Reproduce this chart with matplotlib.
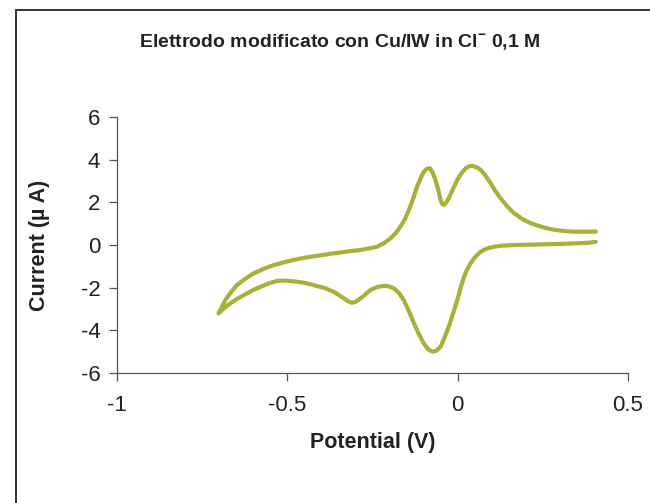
import matplotlib
matplotlib.use("Agg")
import matplotlib.pyplot as plt
from matplotlib.patches import Rectangle

# cyclic voltammogram
# cathodic sweep (0.4 V -> -0.7 V)
pot_down = [0.406, 0.38, 0.30, 0.22, 0.166, 0.13, 0.107, 0.085, 0.068, 0.052,
            0.038, 0.028, 0.019, 0.009, -0.001, -0.013, -0.026, -0.04, -0.05,
            -0.062, -0.074, -0.086, -0.099, -0.113, -0.128, -0.143, -0.158,
            -0.172, -0.187, -0.204, -0.221, -0.238, -0.256, -0.27, -0.285,
            -0.298, -0.31, -0.322, -0.334, -0.35, -0.364, -0.39, -0.423, -0.45,
            -0.481, -0.505, -0.530, -0.555, -0.579, -0.605, -0.628, -0.648,
            -0.668, -0.686, -0.702]
cur_down = [0.15, 0.1, 0.05, 0.02, 0.0, -0.03, -0.08, -0.17, -0.31, -0.55,
            -0.86, -1.15, -1.49, -2.0, -2.58, -3.2, -3.83, -4.4, -4.77,
            -4.95, -5.0, -4.9, -4.62, -4.2, -3.68, -3.1, -2.58,
            -2.25, -2.03, -1.93, -1.92, -1.98, -2.11, -2.3, -2.5,
            -2.65, -2.71, -2.63, -2.5, -2.33, -2.19, -2.02, -1.88, -1.77,
            -1.7, -1.67, -1.68, -1.8, -1.96, -2.15, -2.35, -2.53,
            -2.74, -2.96, -3.21]
# anodic sweep (-0.7 V -> 0.4 V)
pot_up = [-0.702, -0.692, -0.682, -0.665, -0.648, -0.625, -0.599, -0.57, -0.540,
          -0.50, -0.462, -0.41, -0.364, -0.32, -0.285, -0.26, -0.236, -0.215,
          -0.197, -0.182, -0.168, -0.155, -0.143, -0.13, -0.119, -0.108,
          -0.099, -0.09, -0.081, -0.073, -0.065, -0.057, -0.05, -0.045, -0.04,
          -0.033, -0.026, -0.013, -0.001, 0.012, 0.024, 0.034, 0.043, 0.055,
          0.068, 0.082, 0.097, 0.11, 0.126, 0.145, 0.166, 0.19, 0.215, 0.245,
          0.274, 0.30, 0.332, 0.37, 0.406]
cur_up = [-3.21, -2.9, -2.58, -2.2, -1.88, -1.6, -1.33, -1.12, -0.94,
          -0.77, -0.63, -0.5, -0.39, -0.3, -0.23, -0.16, -0.08, 0.1,
          0.31, 0.55, 0.86, 1.2, 1.64, 2.2, 2.74, 3.15,
          3.44, 3.57, 3.6, 3.38, 3.05, 2.6, 2.11, 1.92, 1.88,
          2.0, 2.19, 2.65, 3.05, 3.38, 3.6, 3.69, 3.71, 3.65,
          3.52, 3.25, 2.9, 2.55, 2.19, 1.82, 1.49, 1.22, 1.02, 0.86,
          0.74, 0.68, 0.63, 0.62, 0.63]

x_ticks = [-1, -0.5, 0, 0.5]
y_ticks = [-6, -4, -2, 0, 2, 4, 6]

plt.rcParams['font.family'] = ['Liberation Sans', 'DejaVu Sans']
plt.rcParams['mathtext.fontset'] = 'custom'
plt.rcParams['mathtext.rm'] = 'Liberation Sans'
plt.rcParams['mathtext.bf'] = 'Liberation Sans:bold'

fig = plt.figure(figsize=(6.5, 5.03), dpi=100)
ax = fig.add_axes([0.18, 0.2584, 0.786, 0.509])

line_color = '#a8b03a'
ax.plot(pot_down + pot_up, cur_down + cur_up, color=line_color, lw=3,
        solid_joinstyle='round', solid_capstyle='round')

ax.set_xlim(-1, 0.5)
ax.set_ylim(-6, 6)
ax.set_xticks(x_ticks)
ax.set_xticklabels(['-1', '-0.5', '0', '0.5'])
ax.set_yticks(y_ticks)
ax.set_yticklabels([str(v) for v in y_ticks])

for side in ['top', 'right']:
    ax.spines[side].set_visible(False)
for side in ['left', 'bottom']:
    ax.spines[side].set_color('#555555')
    ax.spines[side].set_linewidth(0.9)
ax.tick_params(direction='out', length=6, width=0.9, color='#555555',
               labelsize=16, labelcolor='#222222')
ax.tick_params(axis='x', pad=10)
ax.tick_params(axis='y', pad=6)

ax.set_xlabel('Potential (V)', fontsize=15.5, fontweight='bold', color='#222222',
              labelpad=11)
ax.set_ylabel('Current (µ A)', fontsize=15.5, fontweight='bold', color='#222222',
              labelpad=22)

fig.text(0.523, 0.915, r'Elettrodo modificato con Cu/IW in Cl$^{\mathbf{-}}$ 0,1 M',
         ha='center', va='center', fontsize=14, fontweight='bold',
         color='#222222')

# chart area border
fig.patches.append(Rectangle((15.5 / 650, -0.1), 1.0, 1.1 - 9.5 / 503,
                             transform=fig.transFigure, fill=False,
                             edgecolor='#333333', lw=1.4))

fig.savefig('out.png', dpi=100)
